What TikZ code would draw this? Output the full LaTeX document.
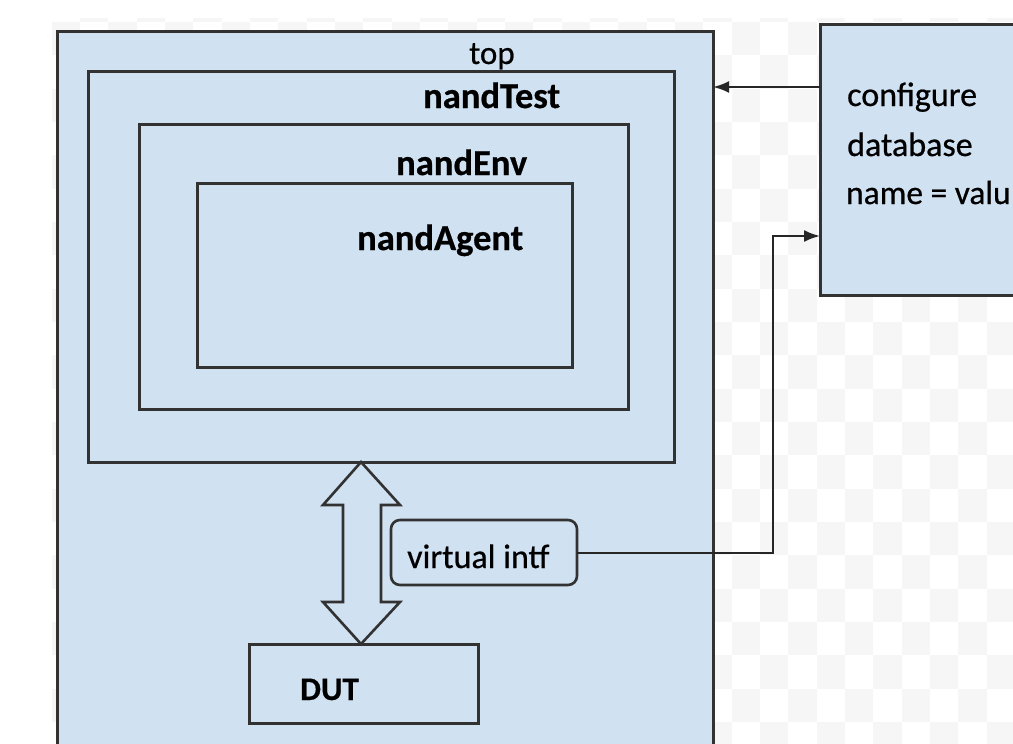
\documentclass[tikz,border=0pt]{standalone}
\usepackage{fontspec}
\setmainfont{Carlito}[FakeBold=0.6]
\usetikzlibrary{arrows.meta,calc}
\definecolor{boxfill}{RGB}{208,225,242}
\definecolor{edge}{RGB}{50,50,50}
\definecolor{checker}{RGB}{246,246,246}
\tikzset{
  box/.style={draw=edge, fill=boxfill, line width=3pt, inner sep=0pt,
    outer sep=0pt, anchor=north west},
  title/.style={font=\fontsize{36.5}{40}\selectfont\bfseries, inner sep=0pt,
    anchor=base west},
  plain/.style={font=\fontsize{34}{38}\selectfont, inner sep=0pt,
    anchor=base west},
  conn/.style={draw=black!85, line width=2.4pt,
    -{Latex[length=16pt,width=12pt]}},
  darrow/.style={draw=edge, fill=boxfill, line width=2.6pt, line join=miter}
}
\begin{document}
\begin{tikzpicture}[x=1pt,y=-1pt]
  \useasboundingbox (0,0) rectangle (1013,744);
  \clip (0,0) rectangle (1013,744);

  % light checkered backdrop
  \begin{scope}
    \clip (51.7,18) rectangle (1013,744);
    \foreach \i in {0,...,34} {
      \foreach \j in {-1,...,22} {
        \pgfmathtruncatemacro\cellparity{mod(\i+\j+2,2)}
        \ifnum\cellparity=0
          \fill[checker] ({51.7+28.33*\i},{22+33.33*\j})
            rectangle ++(28.33,33.33);
        \fi
      }
    }
  \end{scope}

  % nested components
  \node[box, minimum width=656pt, minimum height=800pt] (top) at (57,31) {};
  \node[box, minimum width=586pt, minimum height=391pt] (nandTest) at (88,71) {};
  \node[box, minimum width=489pt, minimum height=285pt] (nandEnv) at (139,124) {};
  \node[box, minimum width=375pt, minimum height=184pt] (nandAgent) at (197,183) {};
  \node[box, minimum width=229pt, minimum height=79pt] (DUT) at (249,644) {};
  \node[box, rounded corners=9pt, line width=2.6pt,
        minimum width=186pt, minimum height=65pt] (vi) at (391,520) {};
  \node[box, minimum width=300pt, minimum height=271pt] (config) at (820,24) {};

  % labels
  \node[plain, font=\fontsize{33}{36}\selectfont] (ltop) at (469,64) {top};
  \node[title] (lTest) at (423,108) {nandTest};
  \node[title] (lEnv) at (396,175) {nandEnv};
  \node[title] (lAgent) at (357,250) {nandAgent};
  \node[plain] (lvi) at (407,568) {virtual intf};
  \node[title, font=\fontsize{33}{36}\selectfont\bfseries] (lDUT) at (300,700) {DUT};
  \node[plain] (lcfg1) at (847,106) {configure};
  \node[plain] (lcfg2) at (847,156) {database};
  \node[plain, font=\fontsize{33.4}{37}\selectfont] (lcfg3) at (846,204) {name = valu};

  % bidirectional block arrow between nandTest and DUT
  \path (361,0) coordinate (dx);
  \coordinate (dtop) at (dx |- nandTest.south);
  \coordinate (dbot) at (dx |- DUT.north);
  \draw[darrow] (dtop) -- ($(dtop)+(39,43)$) -- ($(dtop)+(20,43)$)
    -- ($(dbot)+(20,-42)$) -- ($(dbot)+(39,-42)$) -- (dbot)
    -- ($(dbot)+(-38,-42)$) -- ($(dbot)+(-18,-42)$)
    -- ($(dtop)+(-18,43)$) -- ($(dtop)+(-38,43)$) -- cycle;

  % configuration database links
  \coordinate (c1) at ([yshift=-63pt]config.north west);
  \coordinate (c2) at ([yshift=-212pt]config.north west);
  \draw[conn] (c1) -- (top.east |- c1);
  \draw[conn, line width=2pt] (vi.east) -| ([xshift=-47pt]c2) -- (c2);
\end{tikzpicture}
\end{document}
